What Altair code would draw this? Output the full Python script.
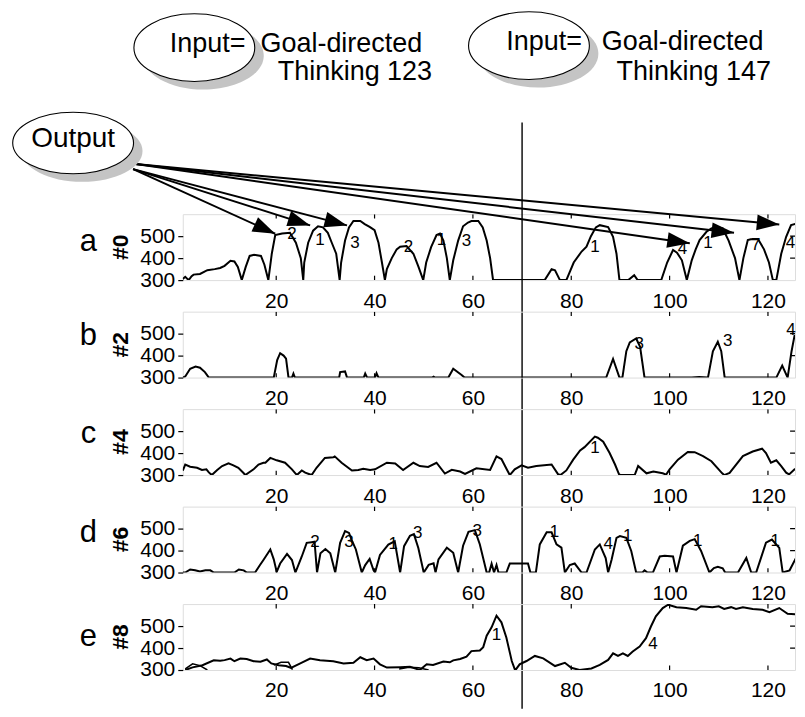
import math
import altair as alt
import pandas as pd

FONT = "Liberation Sans"
XDOM = [1, 125.5]
YDOM = [300, 600]
W = 613
H = 66
PXX = W / (XDOM[1] - XDOM[0])
PXY = H / (YDOM[1] - YDOM[0])
XTICKS = [20, 40, 60, 80, 100, 120]
YTICKS = [300, 400, 500]

# ---------------- panel a (#0) ----------------
a_x = [1, 1.5, 2.2, 2.8, 3.2, 4.5, 6, 7.5, 8.6, 9.5, 10.7, 11.5, 12.2, 13,
       13.8, 14.6, 15.5, 16.9, 17.6, 18.4,
       19.1, 19.8, 21.2, 22.8, 24, 25, 25.5,
       25.7, 26.5, 27.5, 28.5, 29.5, 30.5, 31.3, 32.2, 32.9,
       33.2, 34, 34.8, 35.7, 37.1, 38, 39, 40, 40.8, 41.5, 42.1,
       42.5, 43.5, 44.5, 45.2, 46.5, 47.9, 48.9, 49.9,
       50.5, 51.5, 52.6, 53.3, 54, 54.7, 55.3,
       56, 57, 58, 59, 59.7, 61.1, 62, 62.8, 63.5, 64.1,
       74.6, 76, 76.7, 77.7,
       79, 80.5, 82.1, 83.1, 84, 85, 85.8, 87.5, 88.5, 89.2, 89.8,
       91.6, 92.8, 93.5,
       98.3, 99.5, 100.7, 101.5, 102.5, 103.5,
       104.5, 105.3, 106.1, 107.5, 108.5, 109.5, 110.8, 112, 113.3, 114.2,
       115, 115.9, 116.5, 118, 119.2, 120.2, 121,
       121.7, 122.7, 123.7, 124.7, 125.7, 127, 128]
a_y = [305, 315, 300, 318, 325, 328, 345, 350, 355, 365, 388, 385, 360, 300,
       360, 410, 415, 410, 370, 300,
       420, 505, 512, 515, 470, 400, 300,
       380, 470, 525, 545, 540, 515, 470, 420, 300,
       380, 480, 540, 569, 569, 555, 542, 527, 470, 380, 300,
       350, 400, 440, 452, 455, 420, 362, 300,
       380, 450, 505, 512, 480, 400, 300,
       390, 480, 545, 562, 569, 569, 540, 480, 400, 300,
       300, 350, 345, 300,
       300, 380, 430, 452, 500, 540, 550, 541, 497, 420, 300,
       300, 322, 300,
       300, 380, 437, 425, 390, 300,
       390, 440, 482, 520, 535, 542, 535, 480, 400, 300,
       400, 482, 486, 486, 440, 380, 300,
       300, 420, 497, 550, 557, 555, 540]
a_lab = ["2", "1", "3", "2", "1", "3", "1", "4", "1", "7", "4"]
a_lab_x = [23.2, 28.9, 36, 46.9, 53.6, 58.7, 84.8, 102.6, 107.8, 117.5, 124.6]
a_lab_y = [512, 482, 468, 452, 482, 480, 452, 441, 468, 460, 468]

# ---------------- panel b (#2) ----------------
b_x = [1, 1.5, 2.5, 3.6, 4.5, 5.5, 6.3,
       19.5, 20.2, 20.8, 21.5, 22, 22.5, 23.2, 23.5, 23.8,
       32.8, 33, 34, 34.4,
       37.8, 38.1, 38.5, 40.1, 40.4, 40.8,
       51.7, 52, 52.3, 55, 56, 57.7, 58.3,
       87.1, 88.5, 89.8, 90.4, 91.2, 91.9, 93.2, 94, 94.9,
       104.5, 106, 107.8, 108.8, 109.8, 110.5, 111.2,
       121.7, 122.9, 124, 124.8, 125.4, 126.4, 127.2, 128]
b_y = [300, 305, 340, 350, 345, 325, 300,
       300, 380, 411, 400, 386, 300, 300, 318, 300,
       300, 325, 328, 300,
       300, 318, 300, 300, 320, 300,
       300, 304, 300, 300, 340, 312, 300,
       300, 385, 300, 300, 420, 460, 478, 440, 300,
       300, 303, 300, 420, 463, 420, 300,
       300, 355, 300, 420, 490, 495, 490, 470]
b_lab = ["3", "3", "4"]
b_lab_x = [93.8, 111.8, 124.7]
b_lab_y = [452, 467, 515]

# ---------------- panel c (#4) ----------------
c_x = [1, 1.5, 2.5, 3.9, 4.9, 5.8, 6.3, 6.9,
       8, 9, 10.3, 11.3, 12.3, 13.4, 13.7,
       15.4, 16.4, 17.4, 17.8, 18.8, 20.1, 21.8, 23.2, 24.2,
       25.2, 25.9, 27.2,
       28.2, 29.9, 31.6, 31.9, 33.3, 35.4, 36.7, 37.7, 39.1, 40.1, 42.5, 44.2,
       45.8, 47.9, 49.2, 50.9, 52.6, 54.3, 55.7, 57.4, 58.4, 60.7, 63.5, 64.8,
       65.8, 66.9, 67.5,
       68.5, 69.9, 71.2, 72.9, 76, 77.3, 77.8,
       79, 80.4, 81.8, 82.7, 84.8, 85.4, 86.5, 87.8, 88.9, 89.7, 90,
       92.9, 93.6, 95.3, 96.7, 98.6, 99.3,
       100, 101.7, 103.7, 105.1, 106.8, 108.5, 110.7, 111.1,
       112.2, 114.9, 116.9, 118.8, 119.6, 120.6, 121.7, 122.7, 123.7, 124.3,
       125.4, 126.7, 128]
c_y = [320, 348, 338, 333, 323, 326, 312, 300,
       323, 341, 353, 344, 333, 308, 300,
       326, 348, 356, 356, 378, 367, 356, 326, 300,
       321, 311, 300,
       333, 378, 381, 385, 356, 321, 323, 329, 323, 326, 356, 353,
       323, 356, 341, 337, 356, 307, 324, 316, 305, 331, 323, 385,
       373, 325, 300,
       326, 344, 333, 341, 348, 304, 300,
       321, 370, 412, 427, 475, 470, 452, 400, 348, 304, 300,
       300, 341, 308, 316, 308, 302,
       326, 370, 405, 404, 386, 363, 308, 300,
       310, 386, 407, 420, 400, 356, 367, 341, 311, 303,
       326, 338, 345]
c_lab = ["1"]
c_lab_x = [84.8]
c_lab_y = [422]

# ---------------- panel d (#6) ----------------
d_x = [1, 1.5, 2.5, 3.5, 4.5, 5.6, 6.6, 7.3,
       11.5, 12.4, 13.4, 14,
       15.7, 16.7, 17.4, 18.8, 19.5, 20.1, 20.8, 22.2, 23.2, 23.9,
       25.2, 26.2, 27.2, 27.8, 28.3,
       29, 30, 31, 32,
       33, 34, 34.8, 35.5, 36.2, 37.4,
       38.1, 39, 39.8, 40.1,
       41.1, 42.8, 44.1, 45.2,
       46, 47.2, 48, 48.9, 50,
       51, 52, 52.4,
       53, 54.7, 56, 57,
       58, 59.1, 60.4, 61.4, 62.8,
       63.3, 63.8, 64.3, 64.8, 65.2,
       66.8, 67.5, 70.2, 71.2, 71.7,
       72.8, 73.6, 75, 76, 77, 78, 78.7,
       79.7, 80.7, 82.1,
       83.1, 84.8, 85.8, 87, 87.5,
       88.2, 89.2, 89.9, 91.2, 92.2, 93.2,
       94.5, 94.9, 95.5,
       96.6, 98, 99, 100.7, 101.4,
       102.7, 104.1, 105.1, 106.4, 108.1,
       109, 109.8, 110.8, 111.3,
       113.9, 115.6, 116.6,
       117.6, 119.6, 120.8, 122.3, 123,
       124.4, 125.7, 127, 128]
d_y = [300, 300, 314, 310, 305, 310, 310, 300,
       300, 314, 310, 300,
       300, 334, 357, 405, 360, 303, 341, 385, 357, 300,
       373, 435, 438, 440, 300,
       388, 407, 388, 300,
       435, 489, 480, 440, 405, 300,
       334, 362, 310, 300,
       380, 427, 442, 300,
       420, 467, 475, 412, 300,
       335, 342, 300,
       360, 413, 390, 300,
       422, 485, 493, 429, 300,
       300, 340, 300, 334, 300,
       300, 341, 341, 341, 300,
       300, 428, 483, 483, 428, 413, 300,
       334, 341, 300,
       300, 405, 428, 366, 300,
       358, 458, 466, 458, 398, 300,
       300, 310, 300,
       300, 373, 376, 373, 300,
       422, 444, 452, 398, 300,
       320, 326, 319, 300,
       300, 366, 300,
       300, 436, 450, 412, 300,
       310, 366, 341, 330]
d_lab = ["2", "3", "1", "3", "3", "1", "4", "1", "1", "1"]
d_lab_x = [27.9, 34.8, 43.8, 48.8, 60.9, 76.6, 87.5, 91.5, 105.7, 121.5]
d_lab_y = [439, 438, 428, 480, 491, 483, 428, 467, 444, 444]

# ---------------- panel e (#8) ----------------
e_x = [1.5, 3, 5, 7.3, 8.6, 9.5, 10.7, 11.5, 12.7, 14, 15.4, 16.8, 18.1, 19,
       20.5, 22, 23, 24.9, 26.9, 28.9, 31.6, 33.7, 35.7, 37.1, 38.4, 39.8,
       41.1, 42.5, 45.2, 47.2, 48.5, 49.2, 50.6, 51.9, 54, 55.3, 56, 57.4,
       58.7, 59.7, 61.4, 62.1, 62.8, 63.8, 64.8, 65.8, 66.8, 67.9, 68.6,
       69.5, 70.9, 72.6, 74.3, 76.7, 78.7, 80, 81.7, 84.1, 85.8, 87.5, 88.5,
       89.5, 90.5, 91.5, 92.5, 93.9, 95.2, 96.2, 97.2, 98.6, 99.7, 101.4,
       103.4, 105.4, 106.4, 108.7, 110, 111.1, 112.5, 113.5, 114.9, 116.9,
       118.9, 120.3, 122.3, 124, 126.4, 128]
e_y = [300, 312, 322, 344, 342, 345, 352, 340, 352, 350, 340, 338, 348, 330,
       322, 318, 310, 330, 352, 344, 340, 330, 333, 358, 345, 352,
       326, 311, 313, 315, 305, 300, 326, 323, 339, 335, 344, 350,
       361, 386, 389, 404, 456, 494, 547, 517, 448, 341, 298,
       326, 341, 364, 353, 318, 333, 310, 300, 307, 323, 346, 376,
       364, 376, 364, 384, 407, 445, 498, 544, 582, 597, 586,
       582, 574, 590, 586, 590, 578, 586, 578, 586, 578,
       574, 563, 582, 556, 552, 547]
e2_seg = [0, 0, 0, 0, 1, 1, 1, 1, 2, 2, 2, 2]
e2_x = [1.5, 3, 4.5, 6, 19.5, 21, 22.5, 23.3, 45, 47, 49, 51]
e2_y = [305, 328, 320, 300, 322, 335, 335, 302, 305, 312, 310, 300]
e_lab = ["1", "4"]
e_lab_x = [64.8, 96.6]
e_lab_y = [459, 418]

# ---------------- annotations (panel a data units) ----------------
arrow_x0 = [-9.1, -9.1, -9.1, -8.6, -8.6, -8.6]
arrow_y0 = [805, 805, 805, 828, 828, 828]
arrow_x1 = [19.8, 26.9, 34.4, 104.1, 113.1, 122.3]
arrow_y1 = [511, 549, 549, 468, 515, 553]

ell_x = [3.35, 71.4]
ell_y = [1358, 1367]
out_x = [-21.3]
out_y = [924]

txt = ["Input=", "Goal-directed", "Input=", "Goal-directed"]
txt_x = [-1.66, 16.8, 66.8, 86.2]
txt_y = [1340, 1340, 1346, 1346]
txt_r = ["Thinking 123", "Thinking 147"]
txt_r_x = [51.7, 120.6]
txt_r_y = [1212, 1212]

vline_x = [70]
vline_y = [1017]
vline_y2 = [-1651]

letters = ["a", "b", "c", "d", "e"]
letter_y = [432, 447, 447, 439, 408]
ylabels = ["#0", "#2", "#4", "#6", "#8"]

ELL_IN = "M-1,0A1,0.56,0,1,1,1,0A1,0.56,0,1,1,-1,0Z"
ELL_OUT = "M-1,0A1,0.51,0,1,1,1,0A1,0.51,0,1,1,-1,0Z"
ARROW = "M0,0L0.35,1L-0.35,1Z"

xsc = alt.Scale(domain=XDOM, nice=False, zero=False)
ysc = alt.Scale(domain=YDOM, nice=False, zero=False)
XENC = alt.X("x:Q", scale=xsc, axis=alt.Axis(values=XTICKS, ticks=False, labelPadding=10,
                                             labelFontSize=21, labelFont=FONT, labelColor="black",
                                             domain=False, grid=False, title=None))
YENC = alt.Y("y:Q", scale=ysc, axis=alt.Axis(values=YTICKS, tickSize=5, tickColor="black",
                                             tickWidth=1.2, labelPadding=3, labelFontSize=21,
                                             labelFont=FONT, labelColor="black", domain=False,
                                             grid=False, title=None))


def text_layer(df, size, align="center", baseline="middle", angle=0, weight="normal", clip=False):
    return alt.Chart(df).mark_text(fontSize=size, font=FONT, color="black", align=align,
                                   baseline=baseline, angle=angle, fontWeight=weight,
                                   clip=clip).encode(x=XENC, y=YENC, text="t:N")


def panel(xs, ys, labs, lx, ly, idx, extra_before=None, extra_after=None, second=None):
    layers = []
    if extra_before:
        layers += extra_before
    layers.append(alt.Chart(pd.DataFrame({"x": xs, "y": ys})).mark_line(
        color="black", strokeWidth=2, clip=True).encode(x=XENC, y=YENC))
    if second is not None:
        layers.append(alt.Chart(second).mark_line(color="black", strokeWidth=1.5, clip=True)
                      .encode(x=XENC, y=YENC, detail="seg:N"))
    if labs:
        layers.append(text_layer(pd.DataFrame({"x": lx, "y": ly, "t": labs}), 17))
    # inward ticks at top/bottom and right
    tdf = pd.DataFrame({"x": XTICKS + XTICKS,
                        "y": [300] * 6 + [600] * 6,
                        "y2": [320] * 6 + [580] * 6})
    layers.append(alt.Chart(tdf).mark_rule(color="black", strokeWidth=1.2, clip=True)
                  .encode(x=XENC, y=YENC, y2="y2:Q"))
    rdf = pd.DataFrame({"x": [124.5, 124.5], "x2": [125.5, 125.5], "y": [400, 500]})
    layers.append(alt.Chart(rdf).mark_rule(color="black", strokeWidth=1.2, clip=True)
                  .encode(x=XENC, x2="x2:Q", y=YENC))
    layers.append(text_layer(pd.DataFrame({"x": [-18.2], "y": [letter_y[idx]], "t": [letters[idx]]}),
                             31, baseline="alphabetic"))
    layers.append(text_layer(pd.DataFrame({"x": [-11.5], "y": [450], "t": [ylabels[idx]]}),
                             23, angle=270, weight="bold"))
    if extra_after:
        layers += extra_after
    return alt.layer(*layers).properties(width=W, height=H)


# panel a annotation layers
vline = alt.Chart(pd.DataFrame({"x": vline_x, "y": vline_y, "y2": vline_y2})).mark_rule(
    color="black", strokeWidth=1.4, clip=False).encode(x=XENC, y=YENC, y2="y2:Q")

adf = pd.DataFrame({"x": arrow_x0, "y": arrow_y0, "x2": arrow_x1, "y2": arrow_y1})
shafts = alt.Chart(adf).mark_rule(color="black", strokeWidth=2, clip=False).encode(
    x=XENC, y=YENC, x2="x2:Q", y2="y2:Q")
angs = []
for x0, y0, x1, y1 in zip(arrow_x0, arrow_y0, arrow_x1, arrow_y1):
    dxp = (x1 - x0) * PXX
    dyp = -(y1 - y0) * PXY
    angs.append(math.degrees(math.atan2(dxp, -dyp)) % 360)
hdf = pd.DataFrame({"x": arrow_x1, "y": arrow_y1, "ang": angs})
heads = alt.Chart(hdf).mark_point(shape=ARROW, size=2025, filled=True, color="black",
                                  opacity=1, strokeWidth=0, clip=False).encode(
    x=XENC, y=YENC, angle=alt.Angle("ang:Q", scale=None))

edf = pd.DataFrame({"x": ell_x, "y": ell_y})
odf = pd.DataFrame({"x": out_x, "y": out_y})
ell_layers = []
for df, shp in [(edf, ELL_IN), (odf, ELL_OUT)]:
    ell_layers.append(alt.Chart(df).mark_point(shape=shp, size=14641, filled=True, color="#c4c4c4",
                                               opacity=1, strokeWidth=0, xOffset=9, yOffset=8,
                                               clip=False).encode(x=XENC, y=YENC))
    ell_layers.append(alt.Chart(df).mark_point(shape=shp, size=14641, filled=True, fill="white",
                                               stroke="black", strokeWidth=1.1, opacity=1,
                                               clip=False).encode(x=XENC, y=YENC))

top_txt = [
    text_layer(pd.DataFrame({"x": txt_x, "y": txt_y, "t": txt}), 27, align="left", baseline="alphabetic"),
    text_layer(pd.DataFrame({"x": txt_r_x, "y": txt_r_y, "t": txt_r}), 27, align="right", baseline="alphabetic"),
    text_layer(pd.DataFrame({"x": out_x, "y": [904], "t": ["Output"]}), 28, align="center", baseline="alphabetic"),
]

pa = panel(a_x, a_y, a_lab, a_lab_x, a_lab_y, 0,
           extra_before=[vline],
           extra_after=[shafts, heads] + ell_layers + top_txt)
pb = panel(b_x, b_y, b_lab, b_lab_x, b_lab_y, 1)
pc = panel(c_x, c_y, c_lab, c_lab_x, c_lab_y, 2)
pd_ = panel(d_x, d_y, d_lab, d_lab_x, d_lab_y, 3)
pe = panel(e_x, e_y, e_lab, e_lab_x, e_lab_y, 4,
           second=pd.DataFrame({"x": e2_x, "y": e2_y, "seg": e2_seg}))

chart = alt.vconcat(pa, pb, pc, pd_, pe, spacing=31.6, bounds="flush").properties(
    padding={"left": 2, "top": 0, "right": 0, "bottom": 0}
).configure_view(stroke="black", strokeWidth=1.3).configure(font=FONT, background="white")

chart.save("out.html", embed_options={"renderer": "svg", "actions": False})
